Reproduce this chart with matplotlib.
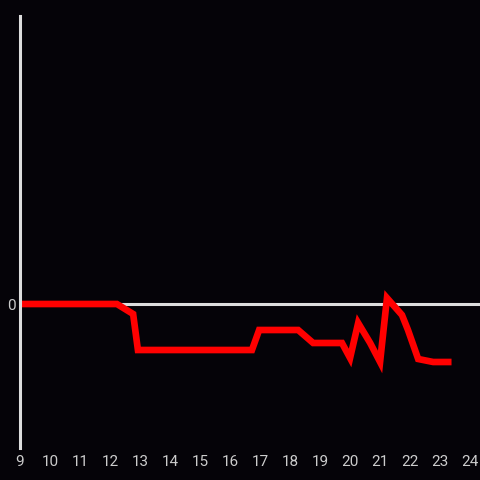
import matplotlib
matplotlib.use('Agg')
import matplotlib.pyplot as plt

# hours of the day and the reading at each point
hours = [9.0, 12.23, 12.77, 12.93, 16.73, 16.97, 18.27, 18.77, 19.73, 20.0,
         20.27, 20.67, 21.0, 21.23, 21.73, 21.93, 22.27, 22.77, 23.27]
values = [0, 0, -10, -46, -46, -26, -26, -39, -39, -54,
          -19, -39, -58, 6, -11, -26, -55, -58, -58]
xticks = list(range(9, 25))

bg = '#050308'
fg = '#dddddd'

fig = plt.figure(figsize=(4.8, 4.8), dpi=100, facecolor=bg)
ax = fig.add_axes([20/480, 32/480, 460/480, 432/480], facecolor=bg)

ax.axhline(0, color=fg, lw=2.2, zorder=1)
ax.plot(hours, values, color='#ff0000', lw=4.8, solid_joinstyle='miter', zorder=2)

ax.set_xlim(9, 24.33)
ax.set_ylim(-144, 288)
ax.set_xticks(xticks)
ax.set_xticklabels([str(t) for t in xticks])
ax.set_yticks([0])
ax.set_yticklabels(['0'])
ax.tick_params(length=0, colors='#cccccc', labelsize=11, pad=5)
ax.tick_params(axis='y', pad=3)

for side in ['top', 'right', 'bottom']:
    ax.spines[side].set_visible(False)
ax.spines['left'].set_color(fg)
ax.spines['left'].set_linewidth(2.2)

for lab in ax.get_xticklabels() + ax.get_yticklabels():
    lab.set_family('Roboto')

fig.savefig('out.png', dpi=100, facecolor=bg)
